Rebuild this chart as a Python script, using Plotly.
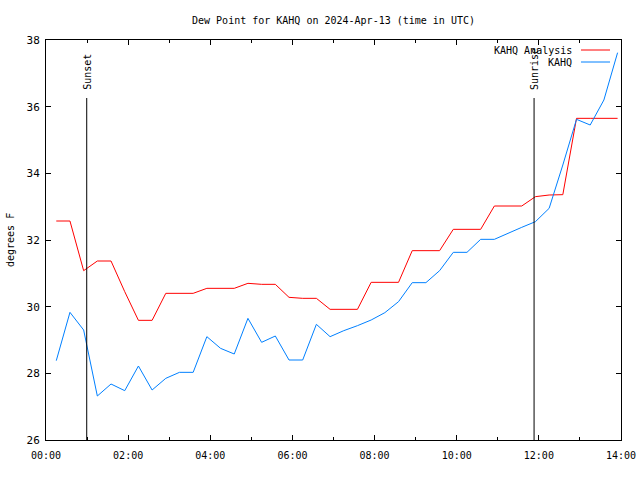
import plotly.graph_objects as go
import pandas as pd

# Observation times (UTC), every 20 minutes
times = pd.date_range("2024-04-13 00:15", periods=42, freq="20min")

analysis = [32.57, 32.57, 31.08, 31.37, 31.37, 30.45, 29.59, 29.59, 30.40, 30.40,
            30.40, 30.55, 30.55, 30.55, 30.70, 30.67, 30.67, 30.28, 30.25, 30.25,
            29.92, 29.92, 29.92, 30.73, 30.73, 30.73, 31.68, 31.68, 31.68, 32.32,
            32.32, 32.32, 33.02, 33.02, 33.02, 33.30, 33.35, 33.36, 35.65, 35.65,
            35.65, 35.65]

kahq = [28.38, 29.83, 29.30, 27.32, 27.68, 27.48, 28.22, 27.50, 27.85, 28.03,
        28.03, 29.10, 28.75, 28.58, 29.65, 28.93, 29.12, 28.40, 28.40, 29.47,
        29.10, 29.28, 29.43, 29.60, 29.82, 30.15, 30.72, 30.72, 31.08, 31.63,
        31.63, 32.02, 32.02, 32.21, 32.38, 32.55, 32.95, 34.25, 35.62, 35.45,
        36.20, 37.62]

series_names = ["KAHQ Analysis", "KAHQ"]
series_colors = ["#ff0000", "#0080ff"]

sun_events = ["Sunset", "Sunrise"]
sun_times = ["2024-04-13 00:59:30", "2024-04-13 11:53:00"]

x_range = ["2024-04-13 00:00", "2024-04-13 14:00"]
y_ticks = [26, 28, 30, 32, 34, 36, 38]

FONT = "DejaVu Sans Mono"

fig = go.Figure()
for name, vals, col in zip(series_names, [analysis, kahq], series_colors):
    fig.add_trace(go.Scatter(x=times, y=vals, mode="lines", name=name,
                             line=dict(color=col, width=1), showlegend=False))

# Sunset / sunrise markers
for label, t in zip(sun_events, sun_times):
    fig.add_shape(type="line", xref="x", yref="paper", x0=t, x1=t, y0=0, y1=0.855,
                  line=dict(color="black", width=1))
    fig.add_annotation(x=t, xref="x", y=0.87, yref="paper", text=label,
                       textangle=-90, showarrow=False, xanchor="center",
                       yanchor="bottom", font=dict(family=FONT, size=10, color="black"))

# Manual legend (gnuplot style: text right-aligned, sample line to the right)
legend_y = [0.975, 0.945]
for name, col, ly in zip(series_names, series_colors, legend_y):
    fig.add_annotation(x=0.9183, xref="paper", y=ly, yref="paper", text=name,
                       showarrow=False, xanchor="right", yanchor="middle",
                       font=dict(family=FONT, size=10, color="black"))
    fig.add_shape(type="line", xref="paper", yref="paper", x0=0.9304, x1=0.9809,
                  y0=ly, y1=ly, line=dict(color=col, width=1))

# Y axis title
fig.add_annotation(x=-0.0626, xref="paper", y=0.5, yref="paper", text="degrees F",
                   textangle=-90, showarrow=False, xanchor="center", yanchor="middle",
                   font=dict(family=FONT, size=10, color="black"))

fig.update_layout(
    width=640, height=480,
    margin=dict(l=46, r=19, t=40, b=40, autoexpand=False),
    paper_bgcolor="white", plot_bgcolor="white",
    font=dict(family=FONT, size=10, color="black"),
    title=dict(text="Dew Point for KAHQ on 2024-Apr-13 (time in UTC)",
               xref="paper", x=0.5, xanchor="center",
               yref="container", y=1 - 20 / 480, yanchor="middle",
               font=dict(family=FONT, size=10, color="black")),
    showlegend=False,
)
fig.update_xaxes(range=x_range, type="date", tickformat="%H:%M",
                 dtick=2 * 3600 * 1000, tick0="2024-04-13 00:00",
                 ticks="inside", ticklen=5, tickcolor="black",
                 minor=dict(dtick=3600 * 1000, ticks="inside", ticklen=3, tickcolor="black"),
                 showline=True, linecolor="black", linewidth=1, mirror="allticks",
                 showgrid=False, zeroline=False, fixedrange=True, automargin=False,
                 ticklabelstandoff=6, tickfont=dict(size=10))
fig.update_yaxes(range=[26, 38], tickvals=y_ticks,
                 ticks="inside", ticklen=5, tickcolor="black",
                 showline=True, linecolor="black", linewidth=1, mirror="allticks",
                 showgrid=False, zeroline=False, fixedrange=True, automargin=False,
                 ticklabelstandoff=3, tickfont=dict(size=11))

fig.write_html("out.html")
